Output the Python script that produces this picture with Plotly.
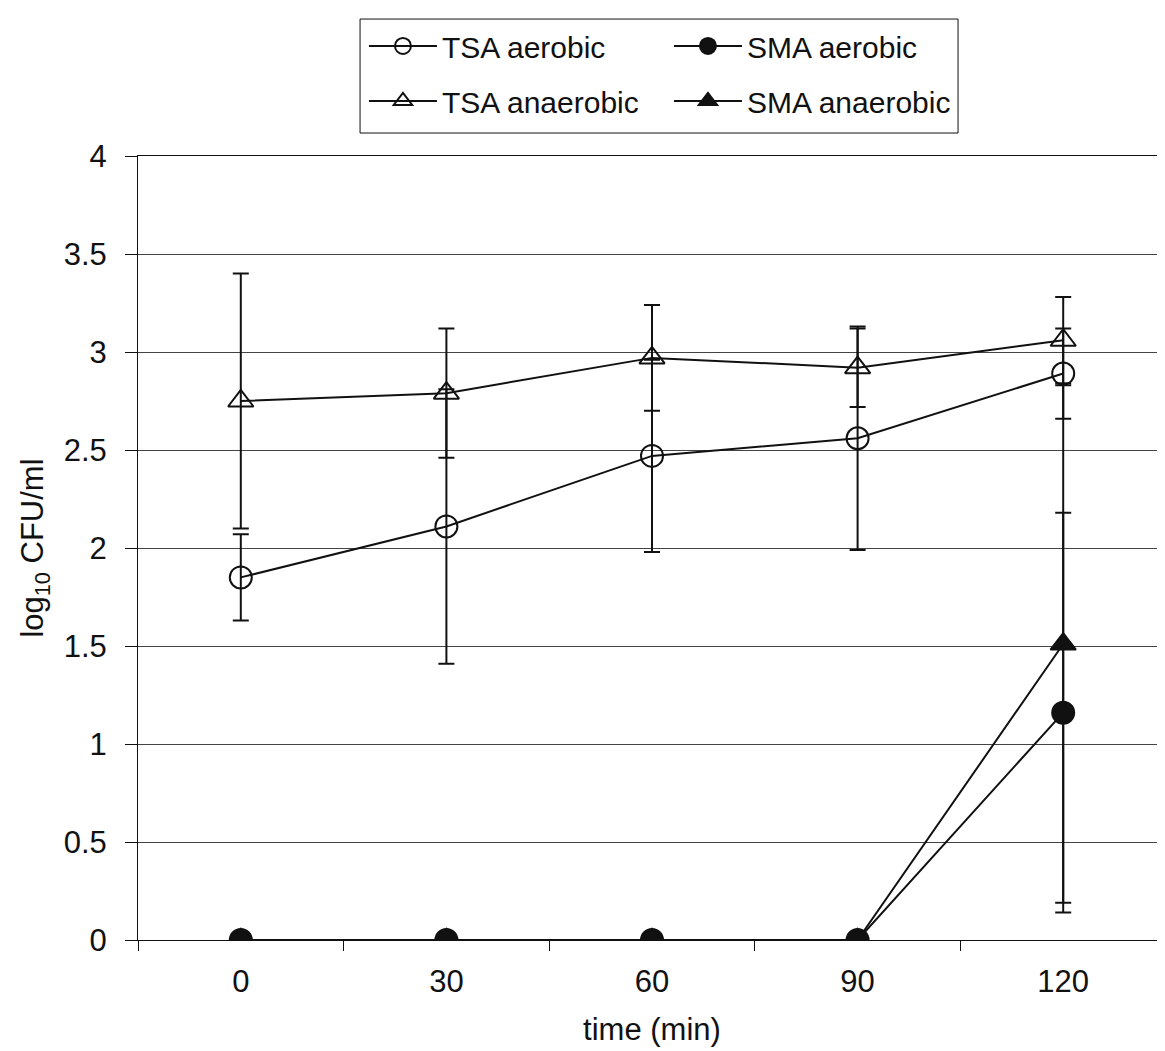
import plotly.graph_objects as go

times = ["0", "30", "60", "90", "120"]

tsa_aerobic = [1.85, 2.11, 2.47, 2.56, 2.89]
tsa_aerobic_err = [0.22, 0.70, 0.49, 0.57, 0.23]

tsa_anaerobic = [2.75, 2.79, 2.97, 2.92, 3.06]
tsa_anaerobic_err = [0.65, 0.33, 0.27, 0.20, 0.22]

sma_aerobic = [0, 0, 0, 0, 1.16]
sma_aerobic_err = [0, 0, 0, 0, 1.02]

sma_anaerobic = [0, 0, 0, 0, 1.51]
sma_anaerobic_err = [0, 0, 0, 0, 1.32]

FONT = "Liberation Sans, Arial, sans-serif"
BLACK = "#111111"
FS = 31
LFS = 30

def trace(name, y, err, symbol, legend, rank):
    return go.Scatter(
        x=times, y=y, name=name, mode="lines+markers",
        line=dict(color=BLACK, width=2),
        marker=dict(symbol=symbol, size=22, color=BLACK,
                    line=dict(color=BLACK, width=2)),
        error_y=dict(type="data", array=err, visible=True,
                     color=BLACK, thickness=2, width=8),
        legend=legend, legendgroup=name, legendrank=rank,
    )

fig = go.Figure()
fig.add_trace(trace("TSA aerobic", tsa_aerobic, tsa_aerobic_err, "circle-open", "legend", 1))
fig.add_trace(trace("TSA anaerobic", tsa_anaerobic, tsa_anaerobic_err, "triangle-up-open", "legend", 2))
fig.add_trace(trace("SMA aerobic", sma_aerobic, sma_aerobic_err, "circle", "legend2", 1))
fig.add_trace(trace("SMA anaerobic", sma_anaerobic, sma_anaerobic_err, "triangle-up", "legend2", 2))

legend_common = dict(
    orientation="v", xref="paper", yref="container",
    xanchor="left", y=0.9886, yanchor="top",
    borderwidth=0, bgcolor="rgba(0,0,0,0)",
    itemwidth=68, tracegroupgap=13,
    font=dict(size=LFS, family=FONT, color=BLACK),
)

fig.update_layout(
    width=1165, height=1051,
    margin=dict(l=130, r=7, t=148, b=119),
    paper_bgcolor="white", plot_bgcolor="white",
    font=dict(family=FONT, size=FS, color=BLACK),
    showlegend=True,
    legend=dict(x=0.2198, **legend_common),
    legend2=dict(x=0.5165, **legend_common),
    shapes=[dict(
        type="rect", xref="paper", yref="paper",
        x0=0.216, x1=0.7977, y0=1.0293, y1=1.1747,
        line=dict(color=BLACK, width=1), fillcolor="rgba(0,0,0,0)",
    )],
    xaxis=dict(
        type="category", range=[-0.5, 4.5], tickson="boundaries",
        ticks="outside", ticklen=10, tickcolor=BLACK, tickwidth=1,
        showline=True, linecolor=BLACK, linewidth=1, mirror=True,
        showgrid=False, zeroline=False, ticklabelstandoff=14,
        automargin=False,
        title=dict(text="time (min)", standoff=20, font=dict(size=FS)),
    ),
    yaxis=dict(
        range=[0, 4], dtick=0.5,
        ticks="outside", ticklen=12, tickcolor=BLACK, tickwidth=1,
        showline=True, linecolor=BLACK, linewidth=1, mirror=True,
        showgrid=True, gridcolor="#444444", gridwidth=1,
        zeroline=False, ticklabelstandoff=12, automargin=False,
        title=dict(text="log<sub>10</sub> CFU/ml", standoff=10, font=dict(size=FS)),
    ),
)

fig.write_html("out.html")
